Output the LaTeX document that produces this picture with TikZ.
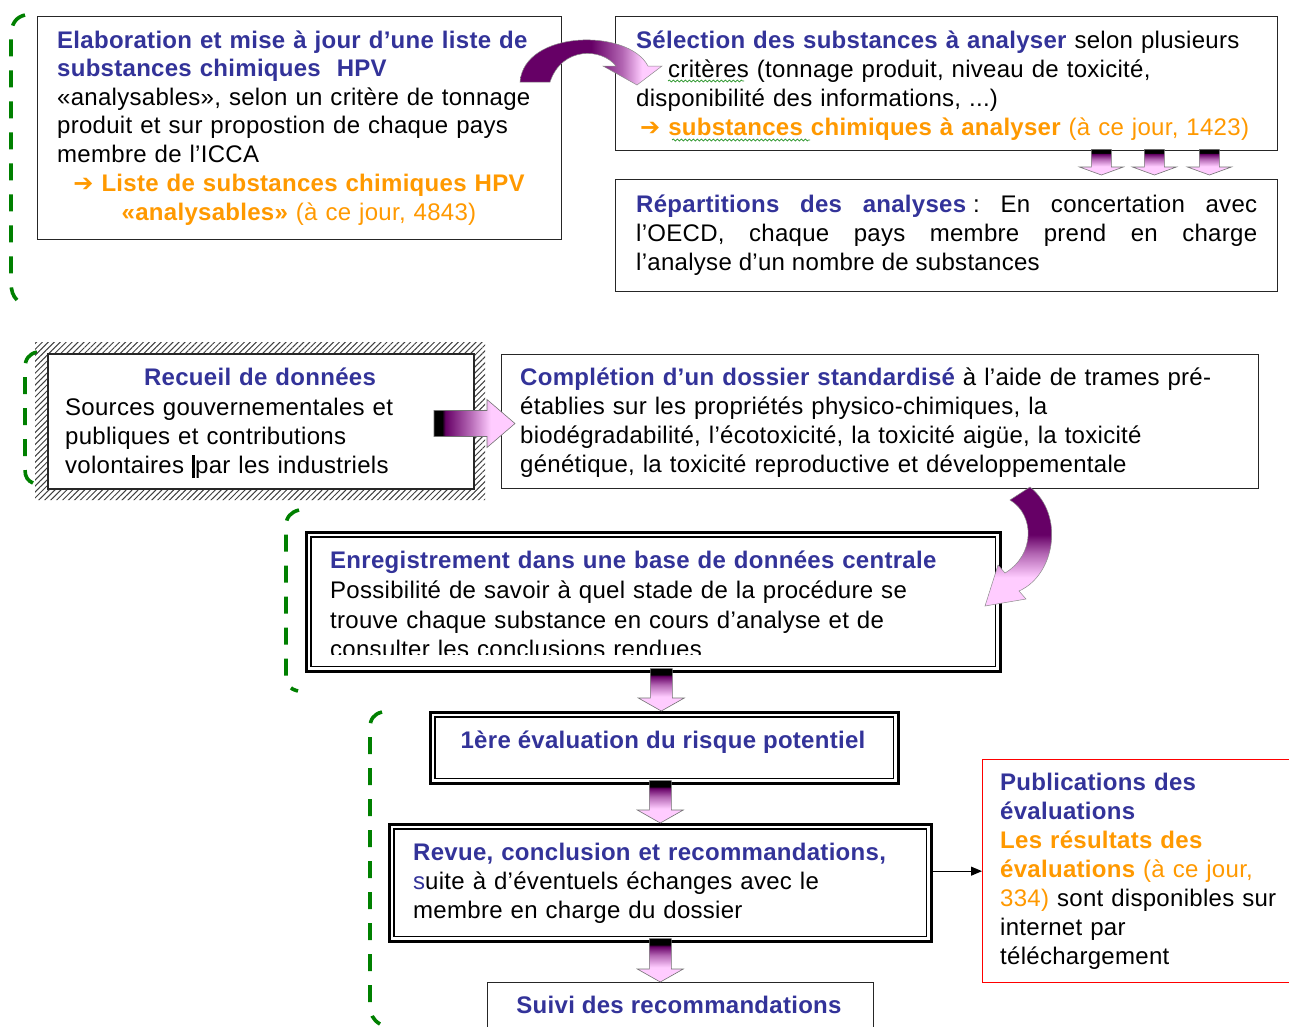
\documentclass[tikz,border=0pt]{standalone}
\usepackage{fontspec}
\setmainfont{Liberation Sans}[LetterSpace=1.2]
\newfontfamily\arrowfont{DejaVu Sans}
\usetikzlibrary{patterns.meta,decorations.pathmorphing,arrows.meta,calc}
\definecolor{tblue}{HTML}{333399}
\definecolor{torange}{HTML}{FF9900}
\definecolor{pdark}{HTML}{660066}
\definecolor{pmid}{HTML}{B366B3}
\definecolor{plight}{HTML}{FFCCFF}
\definecolor{bgreen}{HTML}{008000}
\definecolor{bred}{HTML}{FF0000}
\pgfdeclareverticalshading{blockdown}{100bp}{color(0bp)=(plight); color(42bp)=(plight); color(56bp)=(pmid); color(66bp)=(pdark); color(68bp)=(black); color(100bp)=(black)}
\pgfdeclarehorizontalshading{blockright}{100bp}{color(0bp)=(black); color(30bp)=(black); color(32bp)=(pdark); color(47bp)=(pmid); color(60bp)=(plight); color(100bp)=(plight)}
\pgfdeclarehorizontalshading{archshade}{100bp}{color(0bp)=(pdark); color(50bp)=(pdark); color(61bp)=(pmid); color(68bp)=(plight); color(100bp)=(plight)}
\pgfdeclareverticalshading{hookshade}{100bp}{color(0bp)=(plight); color(37bp)=(plight); color(47bp)=(pmid); color(55bp)=(pdark); color(100bp)=(pdark)}
\newcommand\fs{\fontsize{24}{29}\selectfont}
\newcommand\arr{{\arrowfont\bfseries ➔}}
\newcommand\blockdown[5]{%
  \shade[shading=blockdown, draw=black!55, line width=0.6pt] let \p1=(#1), \p2=(#2) in
  (\x2-#3,\y1) -- (\x2+#3,\y1) -- (\x2+#3,\y2+#5) -- (\x2+#4,\y2+#5) -- (\x2,\y2)
  -- (\x2-#4,\y2+#5) -- (\x2-#3,\y2+#5) -- cycle;}
\newcommand\blockright[5]{%
  \shade[shading=blockright, draw=black!55, line width=0.6pt] let \p1=(#1), \p2=(#2) in
  (\x1,\y2+#3) -- (\x2-#5,\y2+#3) -- (\x2-#5,\y2+#4) -- (\x2,\y2)
  -- (\x2-#5,\y2-#4) -- (\x2-#5,\y2-#3) -- (\x1,\y2-#3) -- cycle;}
\begin{document}
\begin{tikzpicture}[x=1pt,y=-1pt,
  box/.style={draw=black!85, line width=1.4pt, inner sep=0, anchor=north west},
  dblbox/.style={draw=black, line width=2.6pt, inner sep=0, anchor=north west},
  txt/.style={anchor=base west, inner sep=0, align=left, font=\fs},
  txtc/.style={anchor=base, inner sep=0, align=center, font=\fs},
  brack/.style={draw=bgreen, line width=3.6pt, dash pattern=on 17pt off 14pt},
  wavy/.style={draw=bgreen!85, line width=0.7pt, decorate, decoration={snake, amplitude=1pt, segment length=4pt}}]
\useasboundingbox[fill=white] (0,0) rectangle (1289,1026);

% brackets
\draw[brack] (25,15) .. controls (16,17) and (11,24) .. (11,36) -- (11,282) .. controls (11,291) and (13,296) .. (17,300);
\draw[brack] (37,352) .. controls (29,354) and (25,359) .. (25,368) -- (25,470) .. controls (25,477) and (28,481) .. (33,483);
\draw[brack] (299,510) .. controls (291,512) and (286,517) .. (286,526) -- (286,678) .. controls (286,685) and (290,689) .. (298,691);
\draw[brack] (382,712) .. controls (374,714) and (370,719) .. (370,728) -- (370,1005) .. controls (370,1014) and (373,1020) .. (380,1024);

% boxes
\node[box, minimum width=524, minimum height=223] (A) at (37,16) {};
\node[box, minimum width=662, minimum height=134] (B) at (615,16) {};
\node[box, minimum width=662, minimum height=112] (C) at (615,179) {};
\fill[pattern={Lines[angle=45,distance=4.2pt,line width=1pt]}, pattern color=black!75, even odd rule]
  (35,342) rectangle (485,500) (47,353) rectangle (473,488);
\node[box, line width=2pt, minimum width=426, minimum height=135] (D) at (47,353) {};
\node[box, minimum width=757, minimum height=134] (E) at (501,354) {};
\node[dblbox, minimum width=694, minimum height=139] (F) at (305,531) {};
\draw[line width=1.4pt] ([shift={(6,6)}]F.north west) rectangle ([shift={(-6,-6)}]F.south east);
\node[dblbox, minimum width=468, minimum height=71] (G) at (429,711) {};
\draw[line width=1.4pt] ([shift={(6,6)}]G.north west) rectangle ([shift={(-6,-6)}]G.south east);
\node[dblbox, minimum width=542, minimum height=117] (H) at (388,823) {};
\draw[line width=1.4pt] ([shift={(6,6)}]H.north west) rectangle ([shift={(-6,-6)}]H.south east);
\node[box, minimum width=386, minimum height=60] (I) at (487,982) {};
\node[box, draw=bred, line width=1.3pt, minimum width=320, minimum height=223] (J) at (982,759) {};

% texts
\node[txt, text width=510] (tA) at (57,48) {\fontsize{24}{28.5}\selectfont{\color{tblue}\bfseries Elaboration et mise à jour d’une liste de\\ substances chimiques~ HPV}\\ «analysables», selon un critère de tonnage\\ produit et sur propostion de chaque pays\\ membre de l'ICCA};
\node[txtc, text width=520, color=torange] (tA2) at (299,191) {\fontsize{24}{28.5}\selectfont\arr{} {\bfseries Liste de substances chimiques HPV}\\ {\bfseries «analysables»} (à ce jour, 4843)};
\node[txt, text width=650] (tB) at (636,48) {{\color{tblue}\bfseries Sélection des substances à analyser} selon plusieurs\\ \hspace*{32pt}critères (tonnage produit, niveau de toxicité,\\ disponibilité des informations, ...)\\ {\color{torange}\hspace*{4pt}\arr{} {\bfseries substances chimiques à analyser} (à ce jour, 1423)}};
\draw[wavy] (668,81) -- (744,81);
\draw[wavy] (672,140) -- (810,140);
\node[txt, text width=621, align=justify] (tC) at (636,212) {{\color{tblue}\bfseries Répartitions des analyses}\hspace{7pt}:\ En concertation avec\linebreak l'OECD, chaque pays membre prend en charge\linebreak l'analyse d'un nombre de substances};
\node[txtc, text width=400] (tD1) at (260,385) {\color{tblue}\bfseries Recueil de données};
\node[txt, text width=400] (tD2) at (65,415) {Sources gouvernementales et\\ publiques et contributions\\ volontaires \rule[-5pt]{3pt}{23pt}par les industriels};
\node[txt, text width=740] (tE) at (520,385) {{\color{tblue}\bfseries Complétion d’un dossier standardisé} à l'aide de trames pré-\\ établies sur les propriétés physico-chimiques, la\\ biodégradabilité, l'écotoxicité, la toxicité aigüe, la toxicité\\ génétique, la toxicité reproductive et développementale};
\begin{scope}
\clip (300,530) rectangle (1000,654);
\node[txt, text width=660] (tF) at (330,568) {\fontsize{24}{30}\selectfont{\color{tblue}\bfseries Enregistrement dans une base de données centrale}\\ Possibilité de savoir à quel stade de la procédure se\\ trouve chaque substance en cours d'analyse et de\\ consulter les conclusions rendues};
\end{scope}
\node[txtc] (tG) at (663,748) {\color{tblue}\bfseries 1ère évaluation du risque potentiel};
\node[txt, text width=520] (tH) at (413,860) {{\color{tblue}\bfseries Revue, conclusion et recommandations,}\\ {\color{tblue}s}uite à d'éventuels échanges avec le\\ membre en charge du dossier};
\node[txtc] (tI) at (679,1013) {\color{tblue}\bfseries Suivi des recommandations};
\node[txt, text width=300] (tJ) at (1000,790) {{\color{tblue}\bfseries Publications des\\ évaluations}\\ {\color{torange}\bfseries Les résultats des\\ évaluations} {\color{torange}(à ce jour,\\ 334)} sont disponibles sur\\ internet par\\ téléchargement};

% connectors
\blockdown{$(B.south east)+(-177,-2)$}{$(C.north east)+(-177,-4)$}{10pt}{22pt}{8pt}
\blockdown{$(B.south east)+(-124,-2)$}{$(C.north east)+(-124,-4)$}{10pt}{22pt}{8pt}
\blockdown{$(B.south east)+(-69,-2)$}{$(C.north east)+(-69,-4)$}{10pt}{22pt}{8pt}
\blockright{$(D.east)+(-41,0)$}{$(E.west |- D.east)+(14,2)$}{13pt}{24pt}{28pt}
\blockdown{$(F.south)+(0,-4)$}{$(G.north)+(-3,0)$}{11pt}{23pt}{13pt}
\blockdown{$(G.south)+(0,-4)$}{H.north}{11pt}{23pt}{13pt}
\blockdown{$(H.south)+(0,-4)$}{H.south |- I.north}{11pt}{23pt}{13pt}
\draw[line width=1pt, -{Triangle[length=11pt,width=9pt]}] (H.east |- J.west) -- (J.west);

% curved arrows
\shade[shading=archshade, draw=black!45, line width=0.5pt]
  (520,82) .. controls (524,30) and (628,28) .. (648,66) -- (662,66) -- (637,85) -- (603,66) -- (616,66)
  .. controls (602,48) and (562,46) .. (550,82) -- cycle;
\shade[shading=hookshade, draw=black!45, line width=0.5pt]
  (1010,500) -- (1030,487) .. controls (1065,515) and (1055,575) .. (1019,591) -- (1026,599) -- (985,606)
  -- (998,565) -- (1005,573) .. controls (1035,555) and (1035,515) .. (1010,500) -- cycle;
\end{tikzpicture}
\end{document}
